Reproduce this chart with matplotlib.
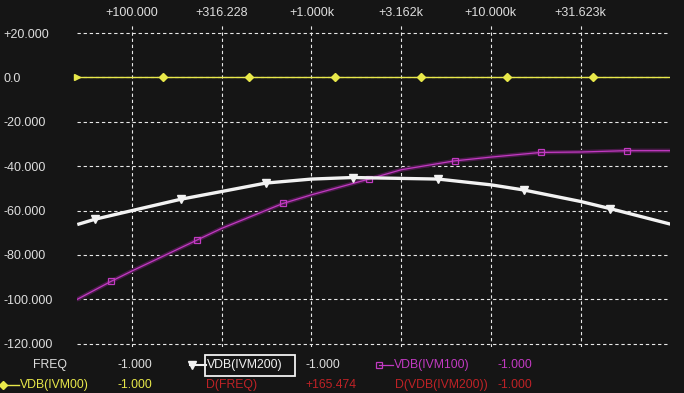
import matplotlib
matplotlib.use("Agg")
import matplotlib.pyplot as plt
from matplotlib.lines import Line2D
from matplotlib.patches import Rectangle

# ── Data ─────────────────────────────────────────────────────────
freq_white = [49.5, 62.2, 100, 186.7, 316.2, 557, 1000, 1702, 3162, 5080,
              10000, 15200, 31623, 46100, 100000]
db_white = [-66.3, -63.9, -60.0, -54.9, -51.4, -47.6, -45.8, -45.1, -45.5,
            -45.8, -48.4, -50.7, -55.9, -59.1, -66.1]
mark_white = [1, 3, 5, 7, 9, 11, 13]

freq_mag = [49.5, 76.4, 100, 230, 316.2, 693, 1000, 2090, 3162, 6270,
            10000, 18970, 31623, 57100, 100000]
db_mag = [-100.0, -91.9, -87.2, -73.3, -68.0, -56.8, -52.9, -45.8, -41.6,
          -37.6, -35.9, -33.8, -33.6, -33.0, -33.0]
mark_mag = [1, 3, 5, 7, 9, 11, 13]

freq_yel = [49.5, 148.6, 449, 1349, 4074, 12300, 37150, 100000]
db_yel = [0, 0, 0, 0, 0, 0, 0, 0]

xticks = [100, 316.228, 1000, 3162.3, 10000, 31623]
xtick_labels = ["+100.000", "+316.228", "+1.000k", "+3.162k", "+10.000k", "+31.623k"]
yticks = [20, 0, -20, -40, -60, -80, -100, -120]
ytick_labels = ["+20.000", "0.0", "-20.000", "-40.000", "-60.000", "-80.000",
                "-100.000", "-120.000"]

# ── Style ────────────────────────────────────────────────────────
BG = "#151515"
FG = "#dedede"
YEL = "#e8e84a"
MAG = "#c23ac2"
RED = "#bf2226"
WHT = "#f2f2f2"
plt.rcParams["font.family"] = ["Liberation Sans", "DejaVu Sans"]

W, H = 684, 393
fig = plt.figure(figsize=(W / 100, H / 100), dpi=100, facecolor=BG)
L, R, T, B = 77.3, 670.3, 24, 347
ax = fig.add_axes([L / W, 1 - B / H, (R - L) / W, (B - T) / H], facecolor=BG)
for s in ax.spines.values():
    s.set_visible(False)

ax.set_xscale("log")
ax.set_xlim(49.5, 100000)
ax.set_ylim(-121.5, 24.1)

ax.xaxis.tick_top()
ax.set_xticks(xticks)
ax.set_xticklabels(xtick_labels)
ax.xaxis.set_minor_locator(matplotlib.ticker.NullLocator())
ax.set_yticks(yticks)
ax.set_yticklabels(ytick_labels)
ax.tick_params(axis="x", length=0, pad=3.5, colors=FG, labelsize=9)
ax.tick_params(axis="y", length=0, pad=53, colors=FG, labelsize=9)
for lab in ax.get_yticklabels():
    lab.set_horizontalalignment("left")

ax.grid(True, color="#e8e8e8", lw=0.8, ls=(0, (3, 2.5)))

# yellow
ax.plot(freq_yel, db_yel, color=YEL, lw=1.0, zorder=3)
ax.plot(freq_yel[1:-1], db_yel[1:-1], ls="none", marker="D", ms=3.8,
        color=YEL, zorder=4)
ax.plot(freq_yel[:1], db_yel[:1], ls="none", marker=">", ms=5,
        color=YEL, zorder=4, clip_on=False)

# magenta with dark glow
ax.plot(freq_mag, db_mag, color="#4a1a4a", lw=3.0, zorder=3,
        solid_capstyle="round")
ax.plot(freq_mag, db_mag, color=MAG, lw=0.9, zorder=4, marker="s", ms=4.5,
        mfc="none", mec=MAG, mew=0.9, markevery=mark_mag)

# white
ax.plot(freq_white, db_white, color=WHT, lw=2.4, zorder=5,
        marker="v", ms=6, markevery=mark_white, solid_capstyle="butt")

# ── Bottom readout rows ─────────────────────────────────────────
def px(x, y):
    return x / W, 1 - y / H

r1, r2 = 365, 385
fs = 8.8
fig.text(*px(33, r1), "FREQ", color=FG, fontsize=fs, va="center")
fig.text(*px(117, r1), "-1.000", color=FG, fontsize=fs, va="center")
fig.add_artist(Line2D([190 / W, 206 / W], [1 - r1 / H, 1 - r1 / H],
                      color=WHT, lw=1.5))
fig.add_artist(Line2D([192 / W], [1 - r1 / H], marker="v", ms=5.5,
                      color=WHT))
fig.add_artist(Rectangle(px(205, 376), 90 / W, 21 / H, fill=False,
                         ec=WHT, lw=1.3, transform=fig.transFigure))
fig.text(*px(207, r1), "VDB(IVM200)", color=WHT, fontsize=fs, va="center")
fig.text(*px(305, r1), "-1.000", color=FG, fontsize=fs, va="center")
fig.add_artist(Line2D([379 / W, 393 / W], [1 - r1 / H, 1 - r1 / H],
                      color=MAG, lw=0.9))
fig.add_artist(Line2D([379 / W], [1 - r1 / H], marker="s", ms=4.5,
                      mfc="none", mec=MAG, mew=0.9))
fig.text(*px(394, r1), "VDB(IVM100)", color=MAG, fontsize=fs, va="center")
fig.text(*px(497, r1), "-1.000", color=MAG, fontsize=fs, va="center")

fig.add_artist(Line2D([3 / W, 19 / W], [1 - r2 / H, 1 - r2 / H],
                      color=YEL, lw=1.0))
fig.add_artist(Line2D([3 / W], [1 - r2 / H], marker="D", ms=3.8, color=YEL))
fig.text(*px(20, r2), "VDB(IVM00)", color=YEL, fontsize=fs, va="center")
fig.text(*px(117, r2), "-1.000", color=YEL, fontsize=fs, va="center")
fig.text(*px(206, r2), "D(FREQ)", color=RED, fontsize=fs, va="center")
fig.text(*px(305, r2), "+165.474", color=RED, fontsize=fs, va="center")
fig.text(*px(395, r2), "D(VDB(IVM200))", color=RED, fontsize=fs, va="center")
fig.text(*px(497, r2), "-1.000", color=RED, fontsize=fs, va="center")

fig.savefig("out.png", dpi=100, facecolor=BG)
